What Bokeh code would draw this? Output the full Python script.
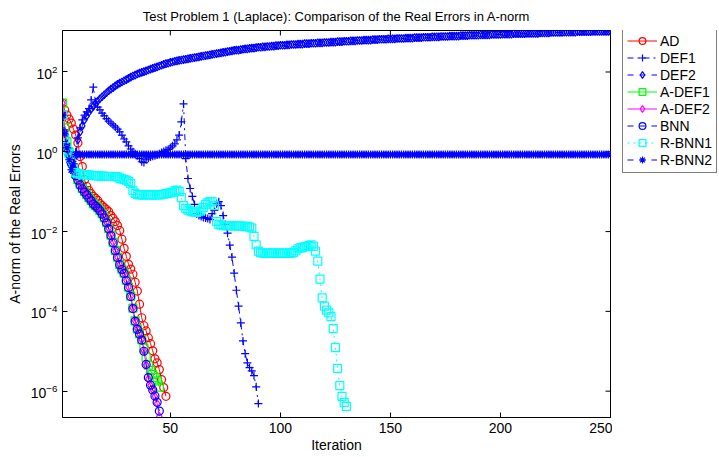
from bokeh.plotting import figure
from bokeh.layouts import row
from bokeh.models import ColumnDataSource, Legend, LegendItem, Range1d, FixedTicker
from bokeh.embed import file_html
from bokeh.resources import INLINE

FONT = "Liberation Sans"

title_text = "Test Problem 1 (Laplace): Comparison of the Real Errors in A-norm"
x_label = "Iteration"
y_label = "A-norm of the Real Errors"
x_ticks = [50, 100, 150, 200, 250]
y_ticks = [1e-6, 1e-4, 1e-2, 1e0, 1e2]

# log10 of the error, one value per iteration (iteration 1, 2, ...)
ad_log = [1.22, 1.05, 0.92, 0.82, 0.72, 0.57, 0.42, 0.22, -0.12, -0.37,
          -0.70, -0.87, -0.97, -1.05, -1.12, -1.17, -1.22, -1.30, -1.35, -1.40,
          -1.45, -1.50, -1.60, -1.67, -1.75, -1.85, -1.97, -2.19, -2.42, -2.62,
          -2.82, -2.94, -3.07, -3.27, -3.49, -3.82, -4.16, -4.36, -4.49, -4.66,
          -4.81, -4.99, -5.19, -5.29, -5.46, -5.71, -5.91, -6.13]

def1_log = [0.92, 0.55, 0.20, -0.10, -0.35, -0.30, 0.00, 0.35, 0.60, 0.80,
            0.92, 1.00, 1.08, 1.30, 1.62, 1.25, 1.12, 1.05, 0.97, 0.90,
            0.83, 0.77, 0.72, 0.67, 0.62, 0.57, 0.50, 0.42, 0.32, 0.25,
            0.15, 0.07, 0.00, -0.05, -0.10, -0.17, -0.25, -0.27, -0.20, -0.16,
            -0.13, -0.11, -0.10, -0.08, -0.05, -0.02, 0.01, 0.04, 0.06, 0.10,
            0.15, 0.20, 0.30, 0.42, 0.75, 1.20, -0.17, -0.67, -0.92, -1.12,
            -1.32, -1.55, -1.60, -1.62, -1.65, -1.66, -1.67, -1.70, -1.55, -1.47,
            -1.30, -1.25, -1.35, -1.60, -1.82, -2.04, -2.34, -2.64, -3.04, -3.47,
            -3.87, -4.29, -4.74, -5.06, -5.29, -5.41, -5.49, -5.61, -5.89, -6.31]

def2_log = [0.92, 0.50, 0.20, -0.10, -0.35, -0.42, -0.10, 0.30, 0.50, 0.65,
            0.80, 0.90, 0.99, 1.07, 1.14, 1.21, 1.27, 1.33, 1.38, 1.43,
            1.48, 1.53, 1.57, 1.61, 1.65, 1.69, 1.72, 1.75, 1.78, 1.81,
            1.84, 1.87, 1.90, 1.92, 1.95, 1.97, 1.99, 2.01, 2.03, 2.05,
            2.07, 2.09, 2.11, 2.13, 2.15, 2.17, 2.19, 2.21, 2.22, 2.24,
            2.25, 2.27, 2.28, 2.29, 2.30, 2.31, 2.32, 2.33, 2.34, 2.35,
            2.36, 2.37, 2.38, 2.39, 2.40, 2.41, 2.42, 2.43, 2.44, 2.45,
            2.46, 2.47, 2.48, 2.49, 2.50, 2.51, 2.52, 2.53, 2.54, 2.55,
            2.55, 2.56, 2.57, 2.58, 2.58, 2.59, 2.60, 2.60, 2.61, 2.62,
            2.62, 2.63, 2.63, 2.64, 2.64, 2.65, 2.65, 2.66, 2.66, 2.67,
            2.67, 2.67, 2.68, 2.68, 2.69, 2.69, 2.69, 2.70, 2.70, 2.70,
            2.71, 2.71, 2.71, 2.72, 2.72, 2.72, 2.73, 2.73, 2.73, 2.74,
            2.74, 2.74, 2.75, 2.75, 2.75, 2.76, 2.76, 2.76, 2.77, 2.77,
            2.77, 2.78, 2.78, 2.78, 2.79, 2.79, 2.79, 2.80, 2.80, 2.80,
            2.80, 2.81, 2.81, 2.81, 2.82, 2.82, 2.82, 2.82, 2.83, 2.83,
            2.83, 2.83, 2.84, 2.84, 2.84, 2.84, 2.85, 2.85, 2.85, 2.85,
            2.86, 2.86, 2.86, 2.86, 2.87, 2.87, 2.87, 2.87, 2.88, 2.88,
            2.88, 2.88, 2.89, 2.89, 2.89, 2.89, 2.90, 2.90, 2.90, 2.90,
            2.90, 2.91, 2.91, 2.91, 2.91, 2.92, 2.92, 2.92, 2.92, 2.92,
            2.93, 2.93, 2.93, 2.93, 2.93, 2.94, 2.94, 2.94, 2.94, 2.94,
            2.95, 2.95, 2.95, 2.95, 2.95, 2.96, 2.96, 2.96, 2.96, 2.96,
            2.96, 2.97, 2.97, 2.97, 2.97, 2.97, 2.97, 2.98, 2.98, 2.98,
            2.98, 2.98, 2.99, 2.99, 2.99, 2.99, 2.99, 2.99, 3.00, 3.00,
            3.00, 3.00, 3.00, 3.00, 3.01, 3.01, 3.01, 3.01, 3.01, 3.01,
            3.01, 3.02, 3.02, 3.02, 3.02, 3.02, 3.02, 3.02, 3.02, 3.02]

adef1_log = [1.22, 0.60, 0.25, 0.00, -0.20, -0.40, -0.55, -0.70, -0.82, -0.92,
             -1.00, -1.07, -1.15, -1.22, -1.30, -1.35, -1.40, -1.47, -1.55, -1.65,
             -1.77, -1.92, -2.09, -2.27, -2.47, -2.64, -2.82, -2.94, -3.04, -3.22,
             -3.39, -3.62, -3.92, -4.24, -4.44, -4.56, -4.71, -4.92, -5.15, -5.35,
             -5.48, -5.58, -5.66, -5.74, -5.90]

adef2_log = [1.22, 0.45, 0.15, -0.05, -0.25, -0.45, -0.58, -0.70, -0.82, -0.92,
             -1.00, -1.07, -1.15, -1.22, -1.30, -1.35, -1.40, -1.47, -1.55, -1.65,
             -1.77, -1.92, -2.09, -2.27, -2.47, -2.64, -2.82, -2.94, -3.04, -3.22,
             -3.39, -3.62, -3.92, -4.24, -4.44, -4.56, -4.71, -4.99, -5.34, -5.69,
             -5.86, -5.96, -6.13, -6.31, -6.63]

bnn_log = [0.92, 0.35, 0.08, -0.08, -0.28, -0.47, -0.60, -0.71, -0.83, -0.93,
           -1.01, -1.08, -1.16, -1.23, -1.31, -1.36, -1.41, -1.48, -1.56, -1.66,
           -1.78, -1.93, -2.10, -2.28, -2.48, -2.65, -2.83, -2.95, -3.05, -3.23,
           -3.40, -3.63, -3.93, -4.25, -4.45, -4.57, -4.72, -5.00, -5.33, -5.66,
           -5.85, -5.97, -6.12, -6.28, -6.50]

rbnn1_log = [0.92, 0.33, 0.05, -0.05, -0.17, -0.40, -0.52, -0.55, -0.56, -0.57,
             -0.57, -0.58, -0.58, -0.59, -0.60, -0.60, -0.60, -0.61, -0.61, -0.61,
             -0.62, -0.62, -0.62, -0.62, -0.62, -0.63, -0.66, -0.68, -0.70, -0.71,
             -0.74, -0.80, -0.97, -1.04, -1.07, -1.08, -1.08, -1.08, -1.08, -1.08,
             -1.08, -1.08, -1.08, -1.08, -1.08, -1.07, -1.06, -1.05, -1.04, -1.03,
             -1.01, -0.98, -0.96, -1.00, -1.15, -1.35, -1.42, -1.46, -1.48, -1.50,
             -1.51, -1.52, -1.50, -1.46, -1.40, -1.32, -1.28, -1.25, -1.25, -1.35,
             -1.75, -1.82, -1.84, -1.85, -1.85, -1.85, -1.85, -1.85, -1.86, -1.86,
             -1.86, -1.86, -1.87, -1.87, -1.87, -1.89, -1.91, -2.12, -2.33, -2.49,
             -2.53, -2.54, -2.54, -2.54, -2.54, -2.54, -2.54, -2.54, -2.54, -2.54,
             -2.54, -2.54, -2.54, -2.54, -2.54, -2.52, -2.48, -2.43, -2.41, -2.40,
             -2.38, -2.37, -2.35, -2.33, -2.37, -2.49, -2.74, -3.19, -3.66, -3.87,
             -3.97, -4.04, -4.13, -4.43, -4.91, -5.43, -5.86, -6.13, -6.28, -6.38]

rbnn2_log = [0.92, 0.45, 0.10, -0.20, -0.45, -0.30, -0.07, -0.07, -0.07, -0.07,
             -0.07, -0.07, -0.07, -0.07, -0.07, -0.07, -0.07, -0.07, -0.07, -0.07,
             -0.07, -0.07, -0.07, -0.07, -0.07, -0.07, -0.07, -0.07, -0.07, -0.07,
             -0.07, -0.07, -0.07, -0.07, -0.07, -0.07, -0.07, -0.07, -0.07, -0.07,
             -0.07, -0.07, -0.07, -0.07, -0.07, -0.07, -0.07, -0.07, -0.07, -0.07,
             -0.07, -0.07, -0.07, -0.07, -0.07, -0.07, -0.07, -0.07, -0.07, -0.07,
             -0.07, -0.07, -0.07, -0.07, -0.07, -0.07, -0.07, -0.07, -0.07, -0.07,
             -0.07, -0.07, -0.07, -0.07, -0.07, -0.07, -0.07, -0.07, -0.07, -0.07,
             -0.07, -0.07, -0.07, -0.07, -0.07, -0.07, -0.07, -0.07, -0.07, -0.07,
             -0.07, -0.07, -0.07, -0.07, -0.07, -0.07, -0.07, -0.07, -0.07, -0.07,
             -0.07, -0.07, -0.07, -0.07, -0.07, -0.07, -0.07, -0.07, -0.07, -0.07,
             -0.07, -0.07, -0.07, -0.07, -0.07, -0.07, -0.07, -0.07, -0.07, -0.07,
             -0.07, -0.07, -0.07, -0.07, -0.07, -0.07, -0.07, -0.07, -0.07, -0.07,
             -0.07, -0.07, -0.07, -0.07, -0.07, -0.07, -0.07, -0.07, -0.07, -0.07,
             -0.07, -0.07, -0.07, -0.07, -0.07, -0.07, -0.07, -0.07, -0.07, -0.07,
             -0.07, -0.07, -0.07, -0.07, -0.07, -0.07, -0.07, -0.07, -0.07, -0.07,
             -0.07, -0.07, -0.07, -0.07, -0.07, -0.07, -0.07, -0.07, -0.07, -0.07,
             -0.07, -0.07, -0.07, -0.07, -0.07, -0.07, -0.07, -0.07, -0.07, -0.07,
             -0.07, -0.07, -0.07, -0.07, -0.07, -0.07, -0.07, -0.07, -0.07, -0.07,
             -0.07, -0.07, -0.07, -0.07, -0.07, -0.07, -0.07, -0.07, -0.07, -0.07,
             -0.07, -0.07, -0.07, -0.07, -0.07, -0.07, -0.07, -0.07, -0.07, -0.07,
             -0.07, -0.07, -0.07, -0.07, -0.07, -0.07, -0.07, -0.07, -0.07, -0.07,
             -0.07, -0.07, -0.07, -0.07, -0.07, -0.07, -0.07, -0.07, -0.07, -0.07,
             -0.07, -0.07, -0.07, -0.07, -0.07, -0.07, -0.07, -0.07, -0.07, -0.07,
             -0.07, -0.07, -0.07, -0.07, -0.07, -0.07, -0.07, -0.07, -0.07, -0.07]

series = [
    # name, values, colour, dash, marker
    ("AD", ad_log, "#ff0000", "solid", "circle"),
    ("DEF1", def1_log, "#0000ff", "dashdot", "cross"),
    ("DEF2", def2_log, "#0000ff", "dashed", "diamond"),
    ("A-DEF1", adef1_log, "#00ff00", "solid", "square"),
    ("A-DEF2", adef2_log, "#ff00ff", "solid", "diamond"),
    ("BNN", bnn_log, "#0000ff", "dashed", "circle"),
    ("R-BNN1", rbnn1_log, "#00ffff", "dotted", "square"),
    ("R-BNN2", rbnn2_log, "#0000ff", "dashed", "asterisk"),
]

X0, X1 = 1, 250
LY0, LY1 = -6.66, 3.04
FRAME_W, FRAME_H = 548, 388
TICK_PX = 5
MAIN_W, TOTAL_W, TOTAL_H = 612, 719, 457
MSIZE, MLW = 8, 1.2

p = figure(width=MAIN_W, height=TOTAL_H, output_backend="svg", toolbar_location=None,
           y_axis_type="log",
           x_range=Range1d(X0, X1), y_range=Range1d(10 ** LY0, 10 ** LY1),
           min_border_left=62, min_border_right=2, min_border_top=29,
           min_border_bottom=40)
p.background_fill_color = "white"
p.border_fill_color = "white"
p.outline_line_color = "black"
p.outline_line_width = 1
p.grid.visible = False

p.title.text = title_text
p.title.align = "center"
p.title.text_font = FONT
p.title.text_font_size = "13px"
p.title.text_font_style = "normal"
p.title.text_color = "black"
p.title.offset = 0
p.title.standoff = 13

p.xaxis.ticker = FixedTicker(ticks=x_ticks)
p.yaxis.ticker = FixedTicker(ticks=y_ticks)
p.xaxis.axis_label = x_label
p.yaxis.axis_label = y_label
for ax in (p.xaxis, p.yaxis):
    ax.major_tick_in = TICK_PX
    ax.major_tick_out = 0
    ax.minor_tick_line_color = None
    ax.axis_line_color = "black"
    ax.major_tick_line_color = "black"
    ax.major_label_text_font = FONT
    ax.major_label_text_font_size = "14px"
    ax.major_label_text_color = "black"
    ax.axis_label_text_font = FONT
    ax.axis_label_text_font_size = "14px"
    ax.axis_label_text_font_style = "normal"
    ax.axis_label_text_color = "black"
p.xaxis.major_label_standoff = 5
p.xaxis.axis_label_standoff = 1
p.yaxis.major_label_standoff = 5
p.yaxis.axis_label_standoff = 5

# mirrored inward ticks on the top and right edges of the box
dx = TICK_PX * (X1 - X0) / FRAME_W
dly = TICK_PX * (LY1 - LY0) / FRAME_H
p.segment(x0=x_ticks, x1=x_ticks, y0=[10 ** LY1] * len(x_ticks),
          y1=[10 ** (LY1 - dly)] * len(x_ticks), line_color="black", line_width=1)
p.segment(x0=[X1] * len(y_ticks), x1=[X1 - dx] * len(y_ticks), y0=y_ticks,
          y1=y_ticks, line_color="black", line_width=1)

# legend lives in a narrow companion panel to the right of the axes box;
# its glyph renderers share the series data but lie outside this panel's view
lp = figure(width=TOTAL_W - MAIN_W, height=TOTAL_H, output_backend="svg",
            toolbar_location=None, x_range=Range1d(-2, -1), y_range=Range1d(-2, -1),
            min_border=0)
lp.xaxis.visible = False
lp.yaxis.visible = False
lp.grid.visible = False
lp.outline_line_color = None
lp.background_fill_color = "white"
lp.border_fill_color = "white"

items = []
for name, logs, color, dash, marker in series:
    src = ColumnDataSource(dict(x=list(range(1, len(logs) + 1)),
                                y=[10.0 ** v for v in logs]))
    p.line("x", "y", source=src, line_color=color, line_width=1, line_dash=dash)
    p.scatter("x", "y", source=src, marker=marker, size=MSIZE,
              line_color=color, line_width=MLW, fill_color=None)
    ln = lp.line("x", "y", source=src, line_color=color, line_width=1,
                 line_dash=dash)
    sc = lp.scatter("x", "y", source=src, marker=marker, size=MSIZE,
                    line_color=color, line_width=MLW, fill_color=None)
    items.append(LegendItem(label=name, renderers=[ln, sc]))

LEG_H = 8 * 17 + 8
legend = Legend(items=items, location=(10, FRAME_H - LEG_H), margin=0, padding=4,
                spacing=0, label_height=17, glyph_height=17, glyph_width=30,
                label_standoff=3, border_line_color="black", border_line_width=1,
                background_fill_color="white", background_fill_alpha=1,
                label_text_font=FONT, label_text_font_size="14px",
                label_text_color="black")
lp.add_layout(legend)

open("out.html", "w").write(file_html(row(p, lp), INLINE))
